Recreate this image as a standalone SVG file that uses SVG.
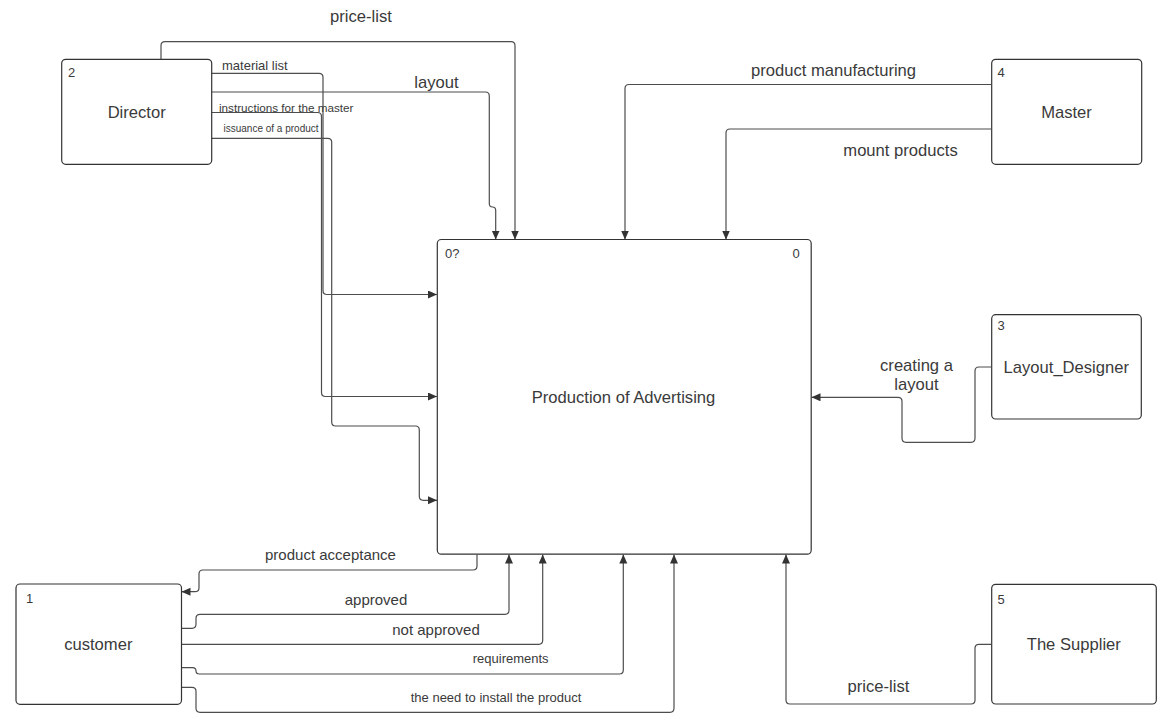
<svg xmlns="http://www.w3.org/2000/svg" width="1157" height="723" viewBox="0 0 1157 723">
<style>
.box{fill:#fff;stroke:#333;stroke-width:1.2}
.c{fill:none;stroke:#4d4d4d;stroke-width:1.2}
text{font-family:"Liberation Sans",Arial,sans-serif;fill:#3a3a3a}
.nl{font-size:16.6px;text-anchor:middle}
.num{font-size:13px}
.lb{font-size:16.6px;text-anchor:middle}
.m{font-size:15px;text-anchor:middle}
.s{font-size:13px;text-anchor:middle}
</style>
<defs>
<marker id="ah" markerUnits="userSpaceOnUse" markerWidth="11" markerHeight="9" refX="9" refY="4" orient="auto">
<path d="M0,0 L9,4 L0,8 z" fill="#333"/>
</marker>
</defs>
<rect width="1157" height="723" fill="#fff"/>
<g id="connectors">
<path class="c" marker-end="url(#ah)" d="M161,59 V45.7 Q161,41.7 165,41.7 H511 Q515,41.7 515,45.7 V239.5"/>
<path class="c" marker-end="url(#ah)" d="M211,73.3 H319 Q323,73.3 323,77.3 V290.5 Q323,294.5 327,294.5 H437"/>
<path class="c" marker-end="url(#ah)" d="M211,92 H485.3 Q489.3,92 489.3,96 V203.5 Q489.3,207 492.5,207 Q495.7,207 495.7,210.5 V239.5"/>
<path class="c" marker-end="url(#ah)" d="M211,112.5 H317.5 Q321.5,112.5 321.5,116.5 V392.5 Q321.5,396.5 325.5,396.5 H437"/>
<path class="c" marker-end="url(#ah)" d="M211,138.3 H327.7 Q331.7,138.3 331.7,142.3 V422 Q331.7,426 335.7,426 H415.3 Q419.3,426 419.3,430 V496.3 Q419.3,500.3 423.3,500.3 H437"/>
<path class="c" marker-end="url(#ah)" d="M991,84.5 H629 Q625,84.5 625,88.5 V239.5"/>
<path class="c" marker-end="url(#ah)" d="M991,129 H730 Q726,129 726,133 V239.5"/>
<path class="c" marker-end="url(#ah)" d="M991,367 H979 Q975,367 975,371 V438.3 Q975,442.3 971,442.3 H906 Q902,442.3 902,438.3 V401.3 Q902,397.3 898,397.3 H811.5"/>
<path class="c" marker-end="url(#ah)" d="M991,644.3 H979 Q975,644.3 975,648.3 V700 Q975,704 971,704 H790 Q786,704 786,700 V554.5"/>
<path class="c" marker-end="url(#ah)" d="M477,554.5 V566 Q477,570 473,570 H203 Q199,570 199,574 V587.7 Q199,591.7 195,591.7 H181.5"/>
<path class="c" marker-end="url(#ah)" d="M181.5,628.3 H192 Q196,628.3 196,624.3 V618.3 Q196,614.3 200,614.3 H505 Q509,614.3 509,610.3 V554.5"/>
<path class="c" marker-end="url(#ah)" d="M181.5,644.3 H538.7 Q542.7,644.3 542.7,640.3 V554.5"/>
<path class="c" marker-end="url(#ah)" d="M181.5,667.7 H192.5 Q196,667.7 196,671 Q196,674 199.5,674 H619.3 Q623.3,674 623.3,670 V554.5"/>
<path class="c" marker-end="url(#ah)" d="M181.5,687.3 H192 Q196,687.3 196,691.3 V708.3 Q196,712.3 200,712.3 H670 Q674,712.3 674,708.3 V554.5"/>
<text class="lb" x="361" y="21.5">price-list</text>
<text style="font-size:13px" x="222" y="69.8">material list</text>
<text class="lb" x="436.5" y="87.5">layout</text>
<text style="font-size:11.7px" x="219" y="111.5">instructions for the master</text>
<text style="font-size:10px" x="223.5" y="131.8">issuance of a product</text>
<text class="lb" x="833.5" y="75.5">product manufacturing</text>
<text class="lb" x="900.5" y="155.5">mount products</text>
<text class="lb" x="916.5" y="370.8">creating a</text>
<text class="lb" x="916.5" y="390">layout</text>
<text class="lb" x="878.5" y="691.5">price-list</text>
<text class="m" x="330.5" y="560">product acceptance</text>
<text class="m" x="376" y="604.5">approved</text>
<text class="m" x="436" y="634.5">not approved</text>
<text class="s" x="510.7" y="663">requirements</text>
<text class="s" x="496" y="702.3">the need to install the product</text>
</g>
<g id="node-0">
<rect class="box" x="437.3" y="239.5" width="373.9" height="314.7" rx="4"/>
<text class="num" x="445" y="258">0?</text>
<text class="num" x="792.5" y="258">0</text>
<text class="nl" x="623.5" y="403">Production of Advertising</text>
</g>
<g id="node-2">
<rect class="box" x="61.7" y="59.3" width="150" height="105" rx="4"/>
<text class="num" x="68" y="77.3">2</text>
<text class="nl" x="136.7" y="118">Director</text>
</g>
<g id="node-4">
<rect class="box" x="991.7" y="59.3" width="150" height="105" rx="4"/>
<text class="num" x="997.5" y="77">4</text>
<text class="nl" x="1066.5" y="118">Master</text>
</g>
<g id="node-3">
<rect class="box" x="991.7" y="314.7" width="149.6" height="104.3" rx="4"/>
<text class="num" x="997.5" y="329.5">3</text>
<text class="nl" x="1066.3" y="373">Layout_Designer</text>
</g>
<g id="node-5">
<rect class="box" x="991.7" y="584.3" width="164.6" height="119.7" rx="4"/>
<text class="num" x="997.5" y="604">5</text>
<text class="nl" x="1073.8" y="650">The Supplier</text>
</g>
<g id="node-1">
<rect class="box" x="16" y="584" width="165.5" height="120.3" rx="4"/>
<text class="num" x="26" y="603">1</text>
<text class="nl" x="98.3" y="650">customer</text>
</g>
</svg>
